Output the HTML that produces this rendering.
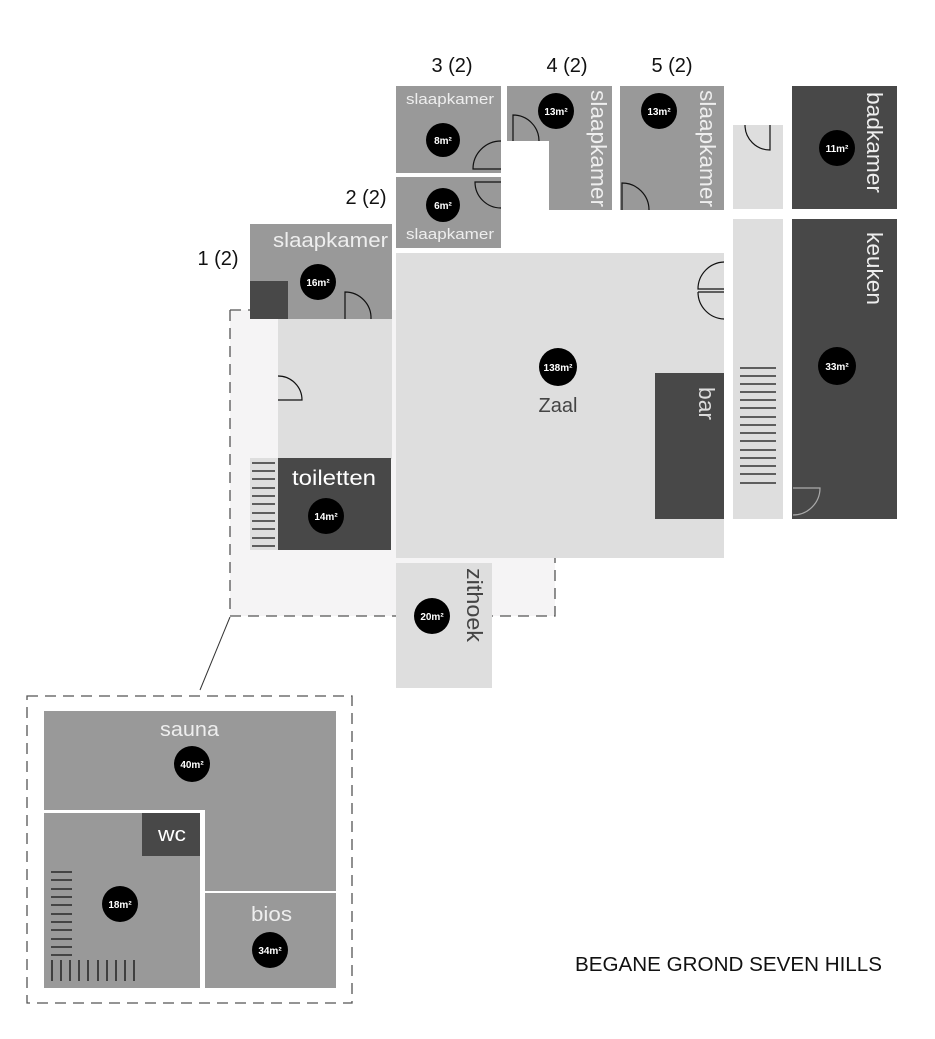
<!DOCTYPE html>
<html><head><meta charset="utf-8"><style>
html,body{margin:0;padding:0;background:#fff;}
svg{display:block;font-family:"Liberation Sans",sans-serif;}
</style></head><body>
<svg width="935" height="1039" viewBox="0 0 935 1039" xmlns="http://www.w3.org/2000/svg">
<rect x="230" y="310" width="325" height="306" fill="#f5f4f5"/>
<path d="M230,310 V616 H555 V558" fill="none" stroke="#555" stroke-width="1.3" stroke-dasharray="11,7"/>
<path d="M230,310 H250" fill="none" stroke="#555" stroke-width="1.3" stroke-dasharray="11,7"/>
<line x1="230" y1="617" x2="200" y2="690" stroke="#333" stroke-width="1"/>
<rect x="278" y="319" width="114" height="140" fill="#dedede"/>
<rect x="250" y="458" width="28" height="92" fill="#dedede"/>
<rect x="278" y="458" width="113" height="92" fill="#484848"/>
<rect x="250" y="224" width="142" height="95" fill="#999"/>
<rect x="250" y="281" width="38" height="38" fill="#484848"/>
<rect x="396" y="86" width="105" height="87" fill="#999"/>
<rect x="396" y="177" width="105" height="71" fill="#999"/>
<path d="M507,86 H612 V210 H549 V141 H507 Z" fill="#999"/>
<rect x="620" y="86" width="104" height="124" fill="#999"/>
<rect x="733" y="125" width="50" height="84" fill="#dedede"/>
<rect x="792" y="86" width="105" height="123" fill="#484848"/>
<rect x="792" y="219" width="105" height="300" fill="#484848"/>
<rect x="733" y="219" width="50" height="300" fill="#dedede"/>
<rect x="396" y="253" width="328" height="305" fill="#dedede"/>
<rect x="655" y="373" width="69" height="146" fill="#484848"/>
<rect x="396" y="563" width="96" height="125" fill="#dedede"/>
<g stroke="#111" stroke-width="1.3">
<line x1="740" y1="368" x2="776" y2="368"/><line x1="740" y1="376" x2="776" y2="376"/><line x1="740" y1="384" x2="776" y2="384"/><line x1="740" y1="392" x2="776" y2="392"/><line x1="740" y1="400" x2="776" y2="400"/><line x1="740" y1="408" x2="776" y2="408"/><line x1="740" y1="417" x2="776" y2="417"/><line x1="740" y1="425" x2="776" y2="425"/><line x1="740" y1="433" x2="776" y2="433"/><line x1="740" y1="441" x2="776" y2="441"/><line x1="740" y1="450" x2="776" y2="450"/><line x1="740" y1="458" x2="776" y2="458"/><line x1="740" y1="466" x2="776" y2="466"/><line x1="740" y1="474" x2="776" y2="474"/><line x1="740" y1="483" x2="776" y2="483"/>
<line x1="252" y1="463" x2="275" y2="463"/><line x1="252" y1="471" x2="275" y2="471"/><line x1="252" y1="479" x2="275" y2="479"/><line x1="252" y1="488" x2="275" y2="488"/><line x1="252" y1="496" x2="275" y2="496"/><line x1="252" y1="504" x2="275" y2="504"/><line x1="252" y1="513" x2="275" y2="513"/><line x1="252" y1="521" x2="275" y2="521"/><line x1="252" y1="529" x2="275" y2="529"/><line x1="252" y1="538" x2="275" y2="538"/><line x1="252" y1="546" x2="275" y2="546"/>
</g>
<g fill="none" stroke="#111" stroke-width="1.2">
<path d="M501,169 H473 A28,28 0 0 1 501,141"/>
<path d="M501,182 H475 A26,26 0 0 0 501,208"/>
<path d="M513,141 V115 A26,26 0 0 1 539,141"/>
<path d="M622,210 V183 A27,27 0 0 1 649,210"/>
<path d="M345,319 V292 A26,26 0 0 1 371,319"/>
<path d="M724,262 A27,27 0 0 0 698,289 H724 M698,292 H724 M698,292 A27,27 0 0 0 724,319"/>
<path d="M278,400 H302 A24,24 0 0 0 278,376"/>
<path d="M770,125 V150 A25,25 0 0 1 745,125"/>
</g>
<path d="M793,488 H820 A27,27 0 0 1 793,515" fill="none" stroke="#aaa" stroke-width="1.2"/>
<rect x="27" y="696" width="325" height="307" fill="none" stroke="#555" stroke-width="1.3" stroke-dasharray="11,7"/>
<path d="M44,711 H336 V891 H205 V810 H44 Z" fill="#999"/>
<rect x="44" y="813" width="156" height="175" fill="#999"/>
<rect x="142" y="813" width="58" height="43" fill="#484848"/>
<rect x="205" y="893" width="131" height="95" fill="#999"/>
<g stroke="#111" stroke-width="1.3">
<line x1="51" y1="872" x2="72" y2="872"/><line x1="51" y1="880" x2="72" y2="880"/><line x1="51" y1="889" x2="72" y2="889"/><line x1="51" y1="897" x2="72" y2="897"/><line x1="51" y1="905" x2="72" y2="905"/><line x1="51" y1="914" x2="72" y2="914"/><line x1="51" y1="922" x2="72" y2="922"/><line x1="51" y1="930" x2="72" y2="930"/><line x1="51" y1="939" x2="72" y2="939"/><line x1="51" y1="947" x2="72" y2="947"/><line x1="51" y1="955" x2="72" y2="955"/>
<line x1="52" y1="960" x2="52" y2="981"/><line x1="61" y1="960" x2="61" y2="981"/><line x1="70" y1="960" x2="70" y2="981"/><line x1="79" y1="960" x2="79" y2="981"/><line x1="88" y1="960" x2="88" y2="981"/><line x1="98" y1="960" x2="98" y2="981"/><line x1="107" y1="960" x2="107" y2="981"/><line x1="116" y1="960" x2="116" y2="981"/><line x1="125" y1="960" x2="125" y2="981"/><line x1="134" y1="960" x2="134" y2="981"/>
</g>
<g fill="#000">
<circle cx="443" cy="140" r="17"/><circle cx="443" cy="205" r="17"/><circle cx="318" cy="282" r="18"/>
<circle cx="556" cy="111" r="18"/><circle cx="659" cy="111" r="18"/><circle cx="837" cy="148" r="18"/>
<circle cx="558" cy="367" r="19"/><circle cx="837" cy="366" r="19"/><circle cx="326" cy="516" r="18"/>
<circle cx="432" cy="616" r="18"/><circle cx="192" cy="764" r="18"/><circle cx="120" cy="904" r="18"/><circle cx="270" cy="950" r="18"/>
</g>
<g fill="#fff" font-size="10" font-weight="bold" text-anchor="middle">
<text x="443" y="144">8m²</text><text x="443" y="209">6m²</text><text x="318" y="286">16m²</text>
<text x="556" y="115">13m²</text><text x="659" y="115">13m²</text><text x="837" y="152">11m²</text>
<text x="558" y="371">138m²</text><text x="837" y="370">33m²</text><text x="326" y="520">14m²</text>
<text x="432" y="620">20m²</text><text x="192" y="768">40m²</text><text x="120" y="908">18m²</text><text x="270" y="954">34m²</text>
</g>
<g fill="#111" font-size="20" text-anchor="middle">
<text x="452" y="72">3 (2)</text><text x="567" y="72">4 (2)</text><text x="672" y="72">5 (2)</text>
<text x="366" y="204">2 (2)</text><text x="218" y="265">1 (2)</text>
</g>
<g fill="#eee">
<text x="273" y="247" font-size="20" textLength="115" lengthAdjust="spacingAndGlyphs">slaapkamer</text>
<text x="406" y="104" font-size="15" textLength="88" lengthAdjust="spacingAndGlyphs">slaapkamer</text>
<text x="406" y="239" font-size="15" textLength="88" lengthAdjust="spacingAndGlyphs">slaapkamer</text>
<text x="292" y="485" font-size="21" fill="#fff" textLength="84" lengthAdjust="spacingAndGlyphs">toiletten</text>
<text x="160" y="736" font-size="20" textLength="59" lengthAdjust="spacingAndGlyphs">sauna</text>
<text x="158" y="841" font-size="20" fill="#fff" textLength="28" lengthAdjust="spacingAndGlyphs">wc</text>
<text x="251" y="921" font-size="20" textLength="41" lengthAdjust="spacingAndGlyphs">bios</text>
</g>
<g fill="#eee" font-size="22">
<text transform="translate(591,90) rotate(90)" textLength="117" lengthAdjust="spacingAndGlyphs">slaapkamer</text>
<text transform="translate(700,90) rotate(90)" textLength="117" lengthAdjust="spacingAndGlyphs">slaapkamer</text>
<text transform="translate(867,92) rotate(90)" textLength="101" lengthAdjust="spacingAndGlyphs">badkamer</text>
<text transform="translate(867,232) rotate(90)" textLength="73" lengthAdjust="spacingAndGlyphs">keuken</text>
<text transform="translate(699,387) rotate(90)" fill="#ddd" textLength="33" lengthAdjust="spacingAndGlyphs">bar</text>
<text transform="translate(467,568) rotate(90)" fill="#444" textLength="74" lengthAdjust="spacingAndGlyphs">zithoek</text>
</g>
<text x="558" y="412" font-size="20" fill="#444" text-anchor="middle">Zaal</text>
<text x="575" y="971" font-size="20" fill="#111" textLength="307" lengthAdjust="spacingAndGlyphs">BEGANE GROND SEVEN HILLS</text>
</svg>
</body></html>
